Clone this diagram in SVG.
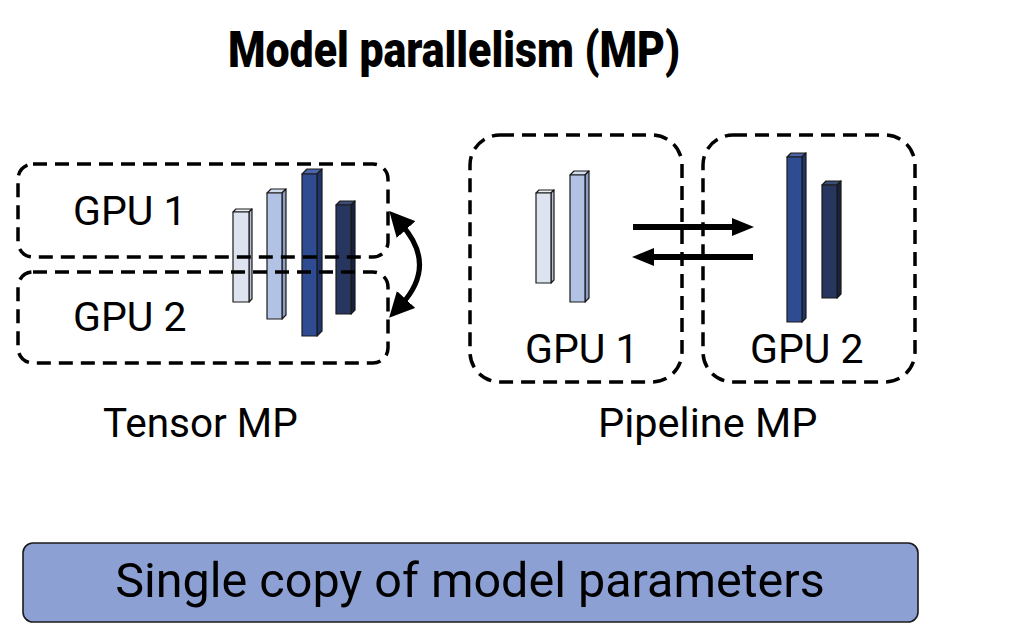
<svg xmlns="http://www.w3.org/2000/svg" width="1010" height="626" viewBox="0 0 1010 626">
<defs>
<style>
.dash{fill:none;stroke:#000;stroke-width:3.5;stroke-dasharray:14 8}
.lbl{font-family:Roboto,"Liberation Sans",sans-serif;fill:#000}
.bar{stroke:#1a1a1a;stroke-width:1.2;stroke-linejoin:round}
.c1f{fill:#dde3ef}.c1s{fill:#b7c0d4}.c1t{fill:#eef1f7}
.c2f{fill:#b2c2e4}.c2s{fill:#8c9dc6}.c2t{fill:#d3ddf0}
.c3f{fill:#2f4b92}.c3s{fill:#1f356f}.c3t{fill:#4a65a8}
.c4f{fill:#26365f}.c4s{fill:#17223f}.c4t{fill:#3c4d78}
.arr{fill:none;stroke:#000;stroke-width:6}
</style>
<marker id="ah" viewBox="0 0 10 10" refX="3" refY="5" markerWidth="5" markerHeight="5" orient="auto-start-reverse" markerUnits="strokeWidth">
<path d="M0,0 L10,5 L0,10 z" fill="#000"/>
</marker>
</defs>
<rect width="1010" height="626" fill="#fff"/>

<text class="lbl" x="228" y="67" font-size="50" font-weight="900" textLength="452" lengthAdjust="spacingAndGlyphs">Model parallelism (MP)</text>

<!-- Tensor MP -->
<g id="tensor-bars">
<g class="bar">
<polygon class="c1t" points="233,212 236,209 252,209 249,212"/>
<polygon class="c1s" points="249,212 252,209 252,299 249,302"/>
<rect class="c1f" x="233" y="212" width="16" height="90"/>
<polygon class="c2t" points="267,193 271,189 286,189 282,193"/>
<polygon class="c2s" points="282,193 286,189 286,315 282,319"/>
<rect class="c2f" x="267" y="193" width="15" height="126"/>
<polygon class="c3t" points="302,174 307,169 322,169 317,174"/>
<polygon class="c3s" points="317,174 322,169 322,331 317,336"/>
<rect class="c3f" x="302" y="174" width="15" height="162"/>
<polygon class="c4t" points="336,205 340,201 355,201 351,205"/>
<polygon class="c4s" points="351,205 355,201 355,310 351,314"/>
<rect class="c4f" x="336" y="205" width="15" height="109"/>
</g>
</g>
<g id="tensor-gpu1">
<rect class="dash" x="18" y="164" width="370" height="93" rx="15"/>
<text class="lbl" x="73" y="225" font-size="41">GPU 1</text>
</g>
<g id="tensor-gpu2">
<rect class="dash" x="18" y="272" width="370" height="91" rx="15"/>
<text class="lbl" x="73" y="331" font-size="41">GPU 2</text>
</g>
<text class="lbl" x="103" y="437" font-size="40.5">Tensor MP</text>

<!-- Pipeline MP -->
<g id="pipe-gpu1">
<rect class="dash" x="470" y="135" width="212" height="247" rx="30"/>
<g class="bar">
<polygon class="c1t" points="536,193 539,190 554,190 551,193"/>
<polygon class="c1s" points="551,193 554,190 554,280 551,283"/>
<rect class="c1f" x="536" y="193" width="15" height="90"/>
<polygon class="c2t" points="570,175 574,171 589,171 585,175"/>
<polygon class="c2s" points="585,175 589,171 589,298 585,302"/>
<rect class="c2f" x="570" y="175" width="15" height="127"/>
</g>
<text class="lbl" x="525" y="363" font-size="41">GPU 1</text>
</g>
<g id="pipe-gpu2">
<rect class="dash" x="703" y="135" width="212" height="247" rx="30"/>
<g class="bar">
<polygon class="c3t" points="787,157 791,153 806,153 802,157"/>
<polygon class="c3s" points="802,157 806,153 806,318 802,322"/>
<rect class="c3f" x="787" y="157" width="15" height="165"/>
<polygon class="c4t" points="822,185 826,181 841,181 837,185"/>
<polygon class="c4s" points="837,185 841,181 841,294 837,298"/>
<rect class="c4f" x="822" y="185" width="15" height="113"/>
</g>
<text class="lbl" x="750" y="363" font-size="41">GPU 2</text>
</g>
<text class="lbl" x="598" y="437" font-size="41.5">Pipeline MP</text>

<!-- connectors -->
<g id="connectors">
<path d="M401,224 Q438,265 401,305" fill="none" stroke="#000" stroke-width="5" marker-start="url(#ah)" marker-end="url(#ah)"/>
<line class="arr" x1="633" y1="227" x2="736" y2="227"/>
<polygon points="732,218 754,227 732,236" fill="#000"/>
<line class="arr" x1="753" y1="257" x2="650" y2="257"/>
<polygon points="654,248 632,257 654,266" fill="#000"/>
</g>

<!-- bottom box -->
<g id="summary">
<rect x="23" y="543" width="895" height="79" rx="10" fill="#8ca0d3" stroke="#1a1a1a" stroke-width="1.6"/>
<text class="lbl" x="470" y="597" font-size="48.5" text-anchor="middle">Single copy of model parameters</text>
</g>
</svg>
